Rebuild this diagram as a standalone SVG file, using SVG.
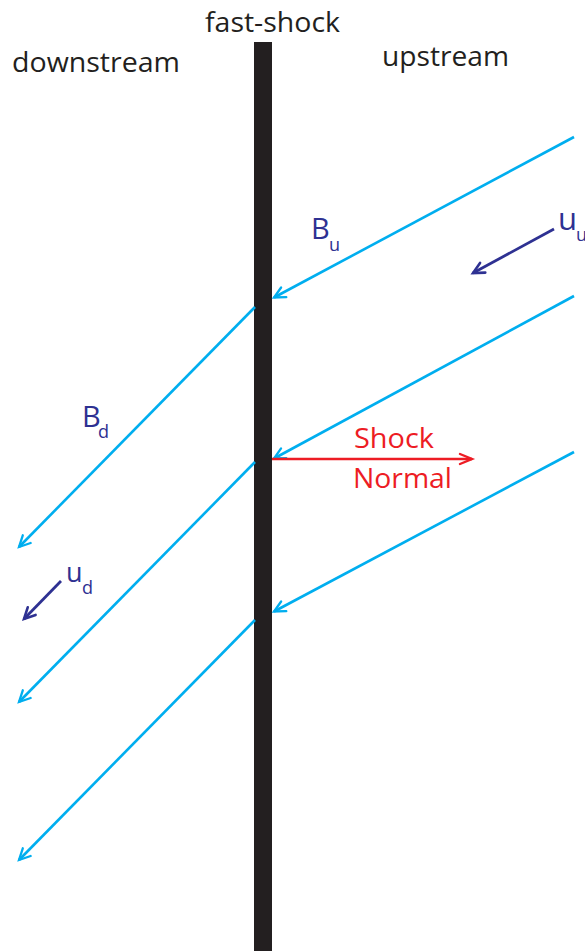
<svg xmlns="http://www.w3.org/2000/svg" width="585" height="951" viewBox="0 0 585 951">
<style>
text{font-family:"Open Sans","Liberation Sans",sans-serif}
.lbl{font-size:28px;fill:#231F20}
.cy{stroke:#00AEEF;stroke-width:2.6;fill:none}
.db{stroke:#2E3192;stroke-width:2.8;fill:none}
.rd{stroke:#ED1C24;stroke-width:2.6;fill:none}
.var{fill:#2E3192;font-size:29px}
.sub{fill:#2E3192;font-size:18px}
.red{fill:#ED1C24;font-size:28px}
</style>
<defs>
<marker id="acy" markerUnits="userSpaceOnUse" viewBox="-15 -10 20 20" markerWidth="20" markerHeight="20" refX="0" refY="0" orient="auto">
<path d="M-11,-5.5 L0,0 L-11,5.5" stroke="#00AEEF" stroke-width="2.3" fill="none" stroke-linecap="round"/>
</marker>
<marker id="adb" markerUnits="userSpaceOnUse" viewBox="-15 -10 20 20" markerWidth="20" markerHeight="20" refX="0" refY="0" orient="auto">
<path d="M-11,-5.5 L0,0 L-11,5.5" stroke="#2E3192" stroke-width="2.6" fill="none" stroke-linecap="round"/>
</marker>
<marker id="ard" markerUnits="userSpaceOnUse" viewBox="-15 -10 20 20" markerWidth="20" markerHeight="20" refX="0" refY="0" orient="auto">
<path d="M-12,-5 L0,0 L-12,5" stroke="#ED1C24" stroke-width="2.4" fill="none" stroke-linecap="round"/>
</marker>
</defs>
<rect width="585" height="951" fill="#ffffff"/>
<g id="shock">
<rect x="254" y="42" width="18" height="909" fill="#231F20"/>
<text class="lbl" x="205" y="32" textLength="135" lengthAdjust="spacingAndGlyphs">fast-shock</text>
</g>
<g id="labels">
<text class="lbl" x="12" y="72" textLength="168" lengthAdjust="spacingAndGlyphs">downstream</text>
<text class="lbl" x="382" y="66" textLength="127" lengthAdjust="spacingAndGlyphs">upstream</text>
</g>
<g id="connectors">
<line class="cy" x1="574" y1="137" x2="274" y2="297.5" marker-end="url(#acy)"/>
<line class="cy" x1="574" y1="296" x2="274" y2="458.5" marker-end="url(#acy)"/>
<line class="cy" x1="574" y1="452" x2="274" y2="611.5" marker-end="url(#acy)"/>
<line class="cy" x1="255" y1="307" x2="19" y2="547" marker-end="url(#acy)"/>
<line class="cy" x1="255" y1="462" x2="19" y2="702" marker-end="url(#acy)"/>
<line class="cy" x1="255" y1="620" x2="19" y2="860" marker-end="url(#acy)"/>
<line class="db" x1="554" y1="229" x2="473" y2="273" marker-end="url(#adb)"/>
<line class="db" x1="61" y1="581" x2="24" y2="619" marker-end="url(#adb)"/>
<line class="rd" x1="272" y1="459" x2="472" y2="459" marker-end="url(#ard)"/>
</g>
<g id="Bu">
<text class="var" x="311" y="239">B</text>
<text class="sub" x="329" y="251">u</text>
</g>
<g id="uu">
<text class="var" x="558" y="230" style="font-size:31px">u</text>
<text class="sub" x="576" y="241">u</text>
</g>
<g id="Bd">
<text class="var" x="82" y="427">B</text>
<text class="sub" x="98" y="438">d</text>
</g>
<g id="ud">
<text class="var" x="66" y="582" style="font-size:27px">u</text>
<text class="sub" x="82" y="594">d</text>
</g>
<g id="normal">
<text class="red" x="354" y="448" textLength="80" lengthAdjust="spacingAndGlyphs">Shock</text>
<text class="red" x="353" y="488" textLength="99" lengthAdjust="spacingAndGlyphs">Normal</text>
</g>
</svg>
